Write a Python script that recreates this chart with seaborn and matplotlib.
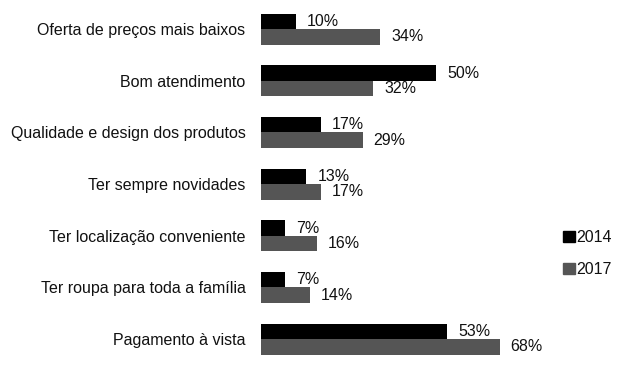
import pandas as pd
import matplotlib
matplotlib.use("Agg")
import matplotlib.pyplot as plt
import seaborn as sns

# chart values
categories = [
    "Oferta de preços mais baixos",
    "Bom atendimento",
    "Qualidade e design dos produtos",
    "Ter sempre novidades",
    "Ter localização conveniente",
    "Ter roupa para toda a família",
    "Pagamento à vista",
]
years = ["2014", "2017"]
values_2014 = [10, 50, 17, 13, 7, 7, 53]
values_2017 = [34, 32, 29, 17, 16, 14, 68]
colors = ["#000000", "#555555"]

df = pd.DataFrame({
    "Motivo": categories * 2,
    "Ano": [years[0]] * len(categories) + [years[1]] * len(categories),
    "Pct": values_2014 + values_2017,
})

sns.set_style("white")
plt.rcParams["font.family"] = ["Liberation Sans", "DejaVu Sans"]

fig = plt.figure(figsize=(6.24, 3.75), dpi=100)
ax = fig.add_axes([0.418, 0.027, 0.45, 0.964])

sns.barplot(data=df, y="Motivo", x="Pct", hue="Ano", palette=colors,
            width=0.6, orient="h", ax=ax, saturation=1, legend=False,
            linewidth=0)

for cont in ax.containers:
    ax.bar_label(cont, fmt="%d%%", padding=8, fontsize=11.5, color="#111111")

ax.set_xlim(0, 80)
ax.set_ylim(6.5, -0.5)
ax.set_xlabel("")
ax.set_ylabel("")
ax.set_xticks([])
ax.tick_params(axis="y", length=0, pad=11, labelsize=11.5, labelcolor="#111111")
sns.despine(ax=ax, left=True, bottom=True)

handles = [plt.Rectangle((0, 0), 1, 1, color=c) for c in colors]
fig.legend(handles, years, loc="center left", bbox_to_anchor=(0.88, 0.324),
           frameon=False, fontsize=11.5, handlelength=0.7, handleheight=0.7,
           handletextpad=0.1, labelspacing=1.1, labelcolor="#111111")

fig.savefig("out.png", dpi=100)
